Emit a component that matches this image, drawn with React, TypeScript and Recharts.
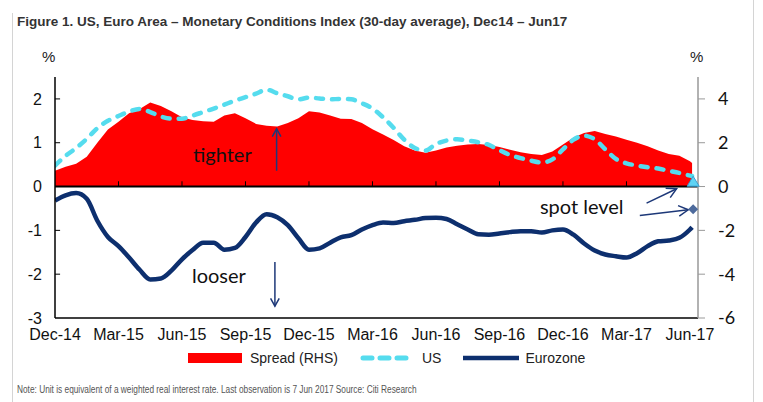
import React from 'react';
import {
  ComposedChart,
  Area,
  Line,
  XAxis,
  YAxis,
  ReferenceLine,
  ReferenceDot,
} from 'recharts';

// months since start of Dec-14, half-month steps, last obs 7 Jun 2017
const months = [
  0, 0.5, 1, 1.5, 2, 2.5, 3, 3.5, 4, 4.5,
  5, 5.5, 6, 6.5, 7, 7.5, 8, 8.5, 9, 9.5,
  10, 10.5, 11, 11.5, 12, 12.5, 13, 13.5, 14, 14.5,
  15, 15.5, 16, 16.5, 17, 17.5, 18, 18.5, 19, 19.5,
  20, 20.5, 21, 21.5, 22, 22.5, 23, 23.5, 24, 24.5,
  25, 25.5, 26, 26.5, 27, 27.5, 28, 28.5, 29, 29.5,
  30, 30.1,
];

// spread, RHS units
const spread = [
  0.72, 0.9, 1.04, 1.36, 2.0, 2.6, 2.96, 3.34, 3.54, 3.84,
  3.68, 3.44, 3.16, 3.04, 2.98, 2.96, 3.24, 3.34, 3.12, 2.86,
  2.78, 2.74, 2.9, 3.12, 3.44, 3.38, 3.24, 3.1, 3.08, 2.9,
  2.62, 2.38, 2.12, 1.84, 1.64, 1.54, 1.64, 1.78, 1.86, 1.92,
  1.94, 1.9, 1.8, 1.68, 1.56, 1.48, 1.44, 1.6, 1.92, 2.24,
  2.44, 2.54, 2.4, 2.28, 2.14, 2.0, 1.84, 1.64, 1.48, 1.4,
  1.16, 1.08,
];

const us = [
  0.48, 0.7, 0.88, 1.09, 1.33, 1.5, 1.61, 1.71, 1.77, 1.7,
  1.6, 1.55, 1.55, 1.62, 1.7, 1.78, 1.87, 1.96, 2.04, 2.12,
  2.21, 2.13, 2.06, 1.99, 2.03, 2.01, 1.99, 2.0, 1.99, 1.9,
  1.78, 1.58, 1.34, 1.07, 0.88, 0.82, 0.97, 1.05, 1.08, 1.05,
  1.01, 0.95, 0.83, 0.72, 0.65, 0.59, 0.55, 0.62, 0.85, 1.07,
  1.16, 1.08, 0.85, 0.63, 0.53, 0.48, 0.44, 0.41, 0.36, 0.31,
  0.25, 0.24,
];

const eurozone = [
  -0.32, -0.2, -0.15, -0.28, -0.78, -1.15, -1.36, -1.62, -1.9, -2.12,
  -2.1, -1.92, -1.66, -1.45, -1.28, -1.28, -1.44, -1.4, -1.15, -0.82,
  -0.63, -0.7, -0.88, -1.18, -1.44, -1.41, -1.28, -1.16, -1.11, -0.98,
  -0.88, -0.82, -0.83, -0.79, -0.76, -0.72, -0.71, -0.74, -0.86, -0.98,
  -1.09, -1.1, -1.07, -1.04, -1.02, -1.02, -1.05, -1.0, -0.98, -1.1,
  -1.3, -1.46, -1.55, -1.59, -1.62, -1.52, -1.36, -1.25, -1.23, -1.17,
  -0.98, -0.93,
];

const spotT = 30.15;
const spotUS = 0.1;
const spotEuro = -0.52;

const tickPos = [0, 3, 6, 9, 12, 15, 18, 21, 24, 27, 30];
const tickLabels = ['Dec-14', 'Mar-15', 'Jun-15', 'Sep-15', 'Dec-15', 'Mar-16', 'Jun-16', 'Sep-16', 'Dec-16', 'Mar-17', 'Jun-17'];
const leftTicks = [-3, -2, -1, 0, 1, 2];
const rightTicks = [-6, -4, -2, 0, 2, 4];

const data = months.map((t, i) => ({ t, spread: spread[i], us: us[i], euro: eurozone[i] }));

// annotation anchors in data units (left axis)
const arrows = [
  { from: { x: 10.47, y: 0.36 }, to: { x: 10.47, y: 1.32 }, head: 9 },
  { from: { x: 10.39, y: -1.72 }, to: { x: 10.39, y: -2.73 }, head: 9 },
  { from: { x: 27.95, y: -0.38 }, to: { x: 29.37, y: -0.05 }, head: 11 },
  { from: { x: 27.63, y: -0.66 }, to: { x: 29.92, y: -0.53 }, head: 11 },
];
const notes = [
  { x: 6.52, y: 0.55, text: 'tighter' },
  { x: 6.47, y: -2.21, text: 'looser' },
  { x: 22.91, y: -0.62, text: 'spot level' },
];

const NAVY = '#0d2f6e';
const CYAN = '#55dcee';
const RED = '#ff0000';
const ARROW = '#1d3878';

const arrowShape = (head: number) => (p: any) => {
  const { x1, y1, x2, y2 } = p;
  const a = Math.atan2(y2 - y1, x2 - x1);
  const w = 0.5;
  const ax = x2 - head * Math.cos(a - w);
  const ay = y2 - head * Math.sin(a - w);
  const bx = x2 - head * Math.cos(a + w);
  const by = y2 - head * Math.sin(a + w);
  return (
    <g>
      <line x1={x1} y1={y1} x2={x2} y2={y2} stroke={ARROW} strokeWidth={1.5} />
      <polyline points={`${ax},${ay} ${x2},${y2} ${bx},${by}`} fill="none" stroke={ARROW} strokeWidth={1.5} />
    </g>
  );
};

const noteShape = (text: string) => (p: any) => (
  <text x={p.cx} y={p.cy} fontFamily="Lato, 'Open Sans', sans-serif" fontSize={20} fill="#111">
    {text}
  </text>
);

const triangle = (p: any) => (
  <polygon
    points={`${p.cx - 6},${p.cy + 4} ${p.cx + 6},${p.cy + 4} ${p.cx},${p.cy - 6}`}
    fill="#5fd3f3"
    stroke="#3a9fd0"
    strokeWidth={1}
  />
);

const diamond = (p: any) => (
  <polygon
    points={`${p.cx - 5},${p.cy} ${p.cx},${p.cy - 5} ${p.cx + 5},${p.cy} ${p.cx},${p.cy + 5}`}
    fill="#4d6a9c"
  />
);

const legendItems = [
  { name: 'Spread (RHS)', kind: 'area', color: RED },
  { name: 'US', kind: 'dash', color: CYAN },
  { name: 'Eurozone', kind: 'line', color: NAVY },
];

function LegendRow() {
  return (
    <div style={{ position: 'absolute', left: 188, top: 350, display: 'flex', alignItems: 'center', fontSize: 14, color: '#222' }}>
      {legendItems.map((it) => (
        <div key={it.name} style={{ display: 'flex', alignItems: 'center', marginRight: 22 }}>
          <svg width={56} height={14} style={{ marginRight: 6 }}>
            {it.kind === 'area' && <rect x={0} y={2} width={54} height={10} fill={it.color} />}
            {it.kind === 'dash' && (
              <line x1={3} y1={7} x2={52} y2={7} stroke={it.color} strokeWidth={5} strokeDasharray="9 8" strokeLinecap="round" />
            )}
            {it.kind === 'line' && <line x1={0} y1={7} x2={56} y2={7} stroke={it.color} strokeWidth={4.5} />}
          </svg>
          <span>{it.name}</span>
        </div>
      ))}
    </div>
  );
}

export default function App() {
  return (
    <div
      style={{
        position: 'relative',
        width: 763,
        height: 402,
        background: '#fff',
        overflow: 'hidden',
        fontFamily: '"Liberation Sans", Arial, sans-serif',
      }}
    >
      <style>{'body{margin:0}'}</style>
      <div style={{ position: 'absolute', left: 12, top: 13, bottom: 0, width: 1, background: '#d4d4d4' }} />
      <div style={{ position: 'absolute', left: 753, top: 0, bottom: 0, width: 1, background: '#d4d4d4' }} />
      <div
        style={{
          position: 'absolute',
          left: 17,
          top: 14,
          fontSize: 13.5,
          lineHeight: '16px',
          fontWeight: 'bold',
          color: '#333',
          fontFamily: '"Liberation Sans Narrow", "Arial Narrow", "Liberation Sans", sans-serif',
          whiteSpace: 'nowrap',
        }}
      >
        Figure 1. US, Euro Area – Monetary Conditions Index (30-day average), Dec14 – Jun17
      </div>
      <div style={{ position: 'absolute', left: 42, top: 48, fontSize: 15, color: '#222' }}>%</div>
      <div style={{ position: 'absolute', left: 690, top: 48, fontSize: 15, color: '#222' }}>%</div>

      <div style={{ position: 'absolute', left: 0, top: 0 }}>
        <ComposedChart width={763} height={402} data={data} margin={{ top: 77, right: 15, bottom: 54, left: 10 }}>
          <XAxis
            dataKey="t"
            type="number"
            domain={[0, 30.38]}
            ticks={tickPos}
            interval={0}
            allowDataOverflow
            tickFormatter={(v: number) => tickLabels[tickPos.indexOf(v)]}
            axisLine={{ stroke: '#000', strokeWidth: 1.5 }}
            tickLine={false}
            tickSize={0}
            tickMargin={11}
            height={30}
            tick={{ fontSize: 16, fill: '#111', fontFamily: '"Liberation Sans Narrow", "Liberation Sans", sans-serif' }}
          />
          <XAxis
            xAxisId="top"
            orientation="top"
            dataKey="t"
            type="number"
            domain={[0, 30.38]}
            tick={false}
            tickLine={false}
            height={0}
            axisLine={{ stroke: '#000', strokeWidth: 1.5 }}
          />
          <YAxis
            yAxisId="left"
            domain={[-3, 2.5]}
            ticks={leftTicks}
            interval={0}
            width={45}
            axisLine={{ stroke: '#000', strokeWidth: 1.5 }}
            tickLine={false}
            tickSize={0}
            tickMargin={13}
            tick={{ fontSize: 16, fill: '#111' }}
          />
          <YAxis
            yAxisId="right"
            orientation="right"
            domain={[-6, 5]}
            ticks={rightTicks}
            interval={0}
            width={50}
            axisLine={{ stroke: '#999', strokeWidth: 1.5 }}
            tickLine={{ stroke: '#999' }}
            tickSize={7}
            tickMargin={13}
            tick={{ fontSize: 18, fill: '#111', fontFamily: 'Lato, sans-serif' }}
          />
          <Area
            yAxisId="right"
            dataKey="spread"
            type="linear"
            fill={RED}
            fillOpacity={1}
            stroke="none"
            baseValue={0}
            isAnimationActive={false}
          />
          <Line
            yAxisId="left"
            dataKey="us"
            type="monotone"
            stroke={CYAN}
            strokeWidth={4.5}
            strokeDasharray="7 9"
            strokeLinecap="round"
            dot={false}
            isAnimationActive={false}
          />
          <Line
            yAxisId="left"
            dataKey="euro"
            type="monotone"
            stroke={NAVY}
            strokeWidth={4.5}
            dot={false}
            isAnimationActive={false}
          />
          <ReferenceLine yAxisId="left" y={0} stroke="#000" strokeWidth={2} />
          {tickPos.slice(1).map((t) => (
            <ReferenceLine
              key={'xt' + t}
              yAxisId="left"
              segment={[{ x: t, y: 0 }, { x: t, y: 0.12 }]}
              stroke="#000"
              strokeWidth={1}
            />
          ))}
          {leftTicks
            .filter((v) => v !== 0 && v !== -3)
            .map((v) => (
              <ReferenceLine
                key={'yt' + v}
                yAxisId="left"
                segment={[{ x: 0, y: v }, { x: 0.24, y: v }]}
                stroke="#000"
                strokeWidth={1}
              />
            ))}
          {arrows.map((a, i) => (
            <ReferenceLine
              key={'ar' + i}
              yAxisId="left"
              segment={[a.from, a.to]}
              shape={arrowShape(a.head)}
            />
          ))}
          {notes.map((n) => (
            <ReferenceDot key={n.text} yAxisId="left" x={n.x} y={n.y} r={0} shape={noteShape(n.text)} />
          ))}
          <ReferenceDot yAxisId="left" x={spotT} y={spotUS} r={6} shape={triangle} />
          <ReferenceDot yAxisId="left" x={spotT} y={spotEuro} r={5} shape={diamond} />
        </ComposedChart>
      </div>

      <LegendRow />
      <div
        style={{
          position: 'absolute',
          left: 17,
          top: 384,
          fontSize: 10,
          lineHeight: '12px',
          color: '#555',
          whiteSpace: 'nowrap',
          transform: 'scaleX(0.83)',
          transformOrigin: 'left top',
          fontFamily: '"Liberation Sans Narrow", "Liberation Sans", sans-serif',
        }}
      >
        Note: Unit is equivalent of a weighted real interest rate. Last observation is 7 Jun 2017 Source: Citi Research
      </div>
    </div>
  );
}
